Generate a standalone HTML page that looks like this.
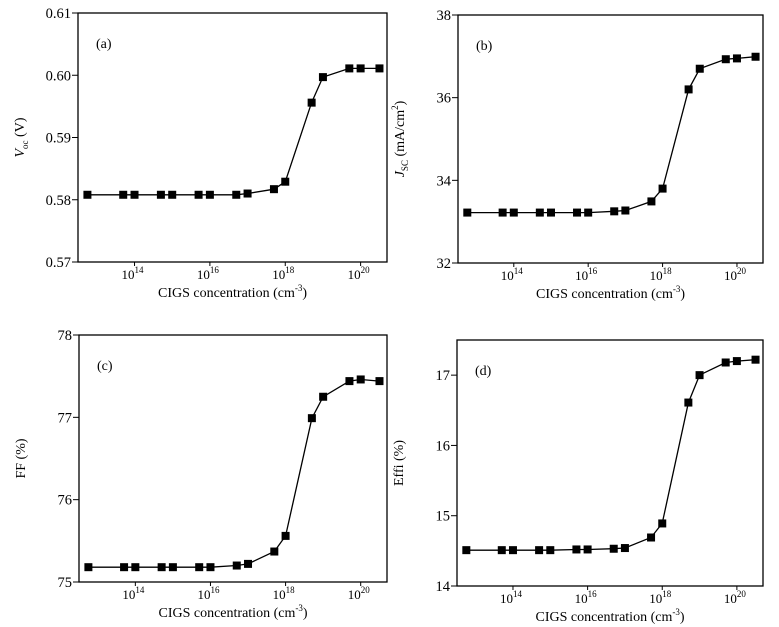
<!DOCTYPE html>
<html><head><meta charset="utf-8"><style>
html,body{margin:0;padding:0;background:#fff;}
svg{display:block;font-family:"Liberation Serif",serif;}
</style></head><body>
<svg id="chart" width="779" height="627" viewBox="0 0 779 627" xmlns="http://www.w3.org/2000/svg"></svg>
<script>
const logX = [12.75,13.7,14,14.7,15,15.7,16,16.7,17,17.7,18,18.7,19,19.7,20,20.5];
const vocValues = [0.5808,0.5808,0.5808,0.5808,0.5808,0.5808,0.5808,0.5808,0.5810,0.5817,0.5829,0.5956,0.5997,0.6011,0.6011,0.6011];
const jscValues = [33.22,33.22,33.22,33.22,33.22,33.22,33.22,33.25,33.27,33.49,33.80,36.20,36.70,36.93,36.95,36.99];
const ffValues = [75.18,75.18,75.18,75.18,75.18,75.18,75.18,75.20,75.22,75.37,75.56,76.99,77.25,77.44,77.46,77.44];
const effValues = [14.51,14.51,14.51,14.51,14.51,14.52,14.52,14.53,14.54,14.69,14.89,16.61,17.00,17.18,17.20,17.22];
const xTickExps = [14,16,18,20];
const vocTicks = ["0.57","0.58","0.59","0.60","0.61"];
const jscTicks = ["32","34","36","38"];
const ffTicks = ["75","76","77","78"];
const effTicks = ["14","15","16","17"];

const NS="http://www.w3.org/2000/svg";
const svg=document.getElementById('chart');
function mk(tag,attrs,parent){const e=document.createElementNS(NS,tag);for(const k in attrs)e.setAttribute(k,attrs[k]);(parent||svg).appendChild(e);return e;}

const panels=[
 {id:'a',L:78,R:387,T:13,B:262,ymin:0.57,ymax:0.61,ticks:vocTicks,vals:vocValues,ylab:'voc'},
 {id:'b',L:458,R:763,T:15,B:263,ymin:32,ymax:38,ticks:jscTicks,vals:jscValues,ylab:'jsc'},
 {id:'c',L:79,R:387,T:335,B:582,ymin:75,ymax:78,ticks:ffTicks,vals:ffValues,ylab:'ff'},
 {id:'d',L:457,R:763,T:340,B:586,ymin:14,ymax:17.5,ticks:effTicks,vals:effValues,ylab:'eff'}
];
const XMIN=12.5,XMAX=20.7;
panels.forEach(p=>{
 const g=mk('g',{});
 
 
 const xs=v=>p.L+(v-XMIN)/(XMAX-XMIN)*(p.R-p.L);
 const ys=v=>p.B-(v-p.ymin)/(p.ymax-p.ymin)*(p.B-p.T);
 const box=mk('rect',{x:p.L,y:p.T,width:p.R-p.L,height:p.B-p.T,fill:'none',stroke:'#000','stroke-width':1.3},g);
 
 
 p.ticks.forEach(t=>{
  const y=ys(parseFloat(t));
  mk('line',{x1:p.L-6,x2:p.L,y1:y,y2:y,stroke:'#000','stroke-width':1},g);
  const tx=mk('text',{x:p.L-7,y:y+5,'text-anchor':'end','font-size':14.5,fill:'#000'},g);
  tx.textContent=t;
  
  
 });
 xTickExps.forEach(e=>{
  const x=xs(e);
  mk('line',{x1:x,x2:x,y1:p.B,y2:p.B+4,stroke:'#000','stroke-width':1},g);
  const tx=mk('text',{x:x-2,y:p.B+17,'text-anchor':'middle','font-size':13,fill:'#000'},g);
  tx.innerHTML='10<tspan font-size="9" dy="-6">'+e+'</tspan>';
  
  
 });
 const cx=(p.L+p.R)/2;
 const xl=mk('text',{x:cx,y:p.B+35,'text-anchor':'middle','font-size':14,fill:'#000'},g);
 xl.innerHTML='CIGS concentration (cm<tspan font-size="9" dy="-6">-3</tspan><tspan dy="6">)</tspan>';
 
 
 const cy=(p.T+p.B)/2, lx=p.L-54;
 const yl=mk('text',{x:lx,y:cy,'text-anchor':'middle','font-size':14,fill:'#000',transform:'rotate(-90 '+lx+' '+cy+')'},g);
 if(p.ylab==='voc') yl.innerHTML='<tspan font-style="italic">V</tspan><tspan font-size="9" dy="4">oc</tspan><tspan dy="-4"> (V)</tspan>';
 else if(p.ylab==='jsc') yl.innerHTML='<tspan font-style="italic">J</tspan><tspan font-size="9" dy="4">SC</tspan><tspan dy="-4"> (mA/cm</tspan><tspan font-size="9" dy="-6">2</tspan><tspan dy="6">)</tspan>';
 else if(p.ylab==='ff') yl.textContent='FF (%)';
 else yl.textContent='Effi (%)';
 
 
 const pl=mk('text',{x:p.L+18,y:p.T+35,'font-size':14,fill:'#000'},g);
 pl.textContent='('+p.id+')';
 
 
 const pts=logX.map((v,i)=>xs(v).toFixed(1)+','+ys(p.vals[i]).toFixed(1)).join(' ');
 const line=mk('polyline',{points:pts,fill:'none',stroke:'#000','stroke-width':1.3},g);
 
 
 logX.forEach((v,i)=>{
  const r=mk('rect',{x:xs(v)-4,y:ys(p.vals[i])-4,width:8,height:8,fill:'#000'},g);
  
  
 });
});
</script>
</body></html>
